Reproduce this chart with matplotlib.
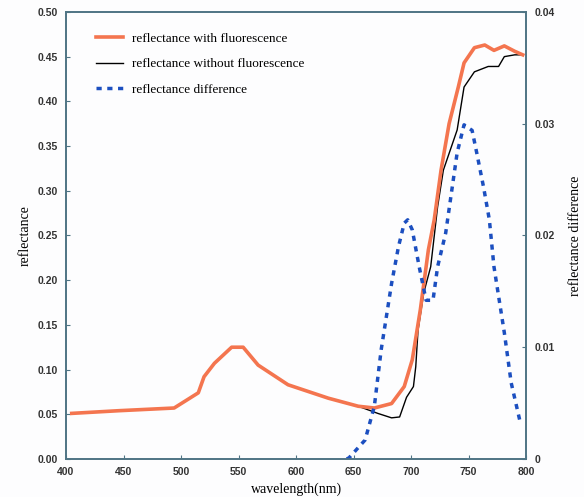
import matplotlib
matplotlib.use('Agg')
import matplotlib.pyplot as plt
from matplotlib.font_manager import FontProperties

# reflectance with fluorescence
wl_f = [405, 446, 494, 515, 520, 529, 544, 554, 567, 593, 628, 654, 668, 683, 694,
        701, 708, 715, 720, 726, 733, 741, 746, 755, 764, 772, 781, 790, 797]
r_f = [0.051, 0.054, 0.057, 0.074, 0.092, 0.107, 0.125, 0.125, 0.105, 0.083, 0.068,
       0.059, 0.057, 0.062, 0.081, 0.111, 0.167, 0.234, 0.267, 0.323, 0.375, 0.416,
       0.443, 0.460, 0.463, 0.457, 0.462, 0.456, 0.452]

# reflectance without fluorescence
wl_n = [405, 446, 494, 515, 520, 529, 544, 554, 567, 593, 628, 654, 671, 683, 690,
        696, 702, 704, 706, 711, 717, 723, 728, 740, 746, 755, 767, 776, 781, 790, 797]
r_n = [0.051, 0.054, 0.057, 0.074, 0.092, 0.107, 0.125, 0.125, 0.105, 0.083, 0.068,
       0.059, 0.051, 0.046, 0.047, 0.069, 0.081, 0.103, 0.144, 0.186, 0.215, 0.282,
       0.323, 0.368, 0.416, 0.433, 0.439, 0.439, 0.450, 0.452, 0.452]

# reflectance difference (right axis)
wl_d = [644, 646, 660, 668, 674, 683, 689, 694, 697, 701, 707, 713, 719, 723, 730,
        735, 740, 746, 753, 757, 763, 768, 772, 781, 787, 795]
r_d = [0.0, 0.0001, 0.0017, 0.0047, 0.0098, 0.0157, 0.019, 0.0211, 0.0214, 0.0205,
       0.0172, 0.0142, 0.0142, 0.0172, 0.0202, 0.0238, 0.0274, 0.0299, 0.0294, 0.0274,
       0.0243, 0.0214, 0.0172, 0.0113, 0.0068, 0.0032]

spine_c = '#4f7484'
serif = 'Liberation Serif'
fig = plt.figure(figsize=(5.84, 4.97), dpi=100)
fig.patch.set_facecolor('#fdfdfe')
ax = fig.add_axes([0.113, 0.0765, 0.788, 0.8995])
ax2 = ax.twinx()

line2 = ax.plot(wl_n, r_n, '-', color='black', lw=1,
                label='reflectance without fluorescence')
line1 = ax.plot(wl_f, r_f, '-', color='#f4754f', lw=2.6,
                label='reflectance with fluorescence')
line3 = ax2.plot(wl_d, r_d, '--', color='#1c4fc0', lw=2.5, dashes=(1.5, 1.6),
                 label='reflectance difference')
# orange sits on top where the two curves coincide (before ~660 nm)
line1[0].set_zorder(3)
line2[0].set_zorder(2)

ax.set_xlim(400, 800)
ax.set_ylim(0, 0.5)
ax2.set_ylim(0, 0.04)
ax.set_xticks(range(400, 801, 50))
ax.set_yticks([i * 0.05 for i in range(11)])
ax.set_yticklabels(['%.2f' % (i * 0.05) for i in range(11)])
ax2.set_yticks([0, 0.01, 0.02, 0.03, 0.04])
ax2.set_yticklabels(['0', '0.01', '0.02', '0.03', '0.04'])

for a in (ax, ax2):
    for s in a.spines.values():
        s.set_color(spine_c)
        s.set_linewidth(1.2)
    a.tick_params(direction='in', length=3, color=spine_c, labelsize=7.5, pad=6)
    for t in a.get_xticklabels() + a.get_yticklabels():
        t.set_fontweight('bold')
        t.set_family('Liberation Sans')
        t.set_color('#333333')
ax.set_facecolor('#fdfdfe')

ax.set_xlabel('wavelength(nm)', family=serif, fontsize=10, labelpad=4)
ax.set_ylabel('reflectance', family=serif, fontsize=10, labelpad=4)
ax2.set_ylabel('reflectance difference', family=serif, fontsize=10, labelpad=10)

lines = line1 + line2 + line3
labs = [l.get_label() for l in lines]
ax.legend(lines, labs, loc='upper left', bbox_to_anchor=(0.04, 0.98), frameon=False,
          prop=FontProperties(family=serif, size=9.5), handlelength=2.0,
          handletextpad=0.7, labelspacing=1.0)

plt.savefig('out.png', dpi=100, facecolor=fig.get_facecolor())
